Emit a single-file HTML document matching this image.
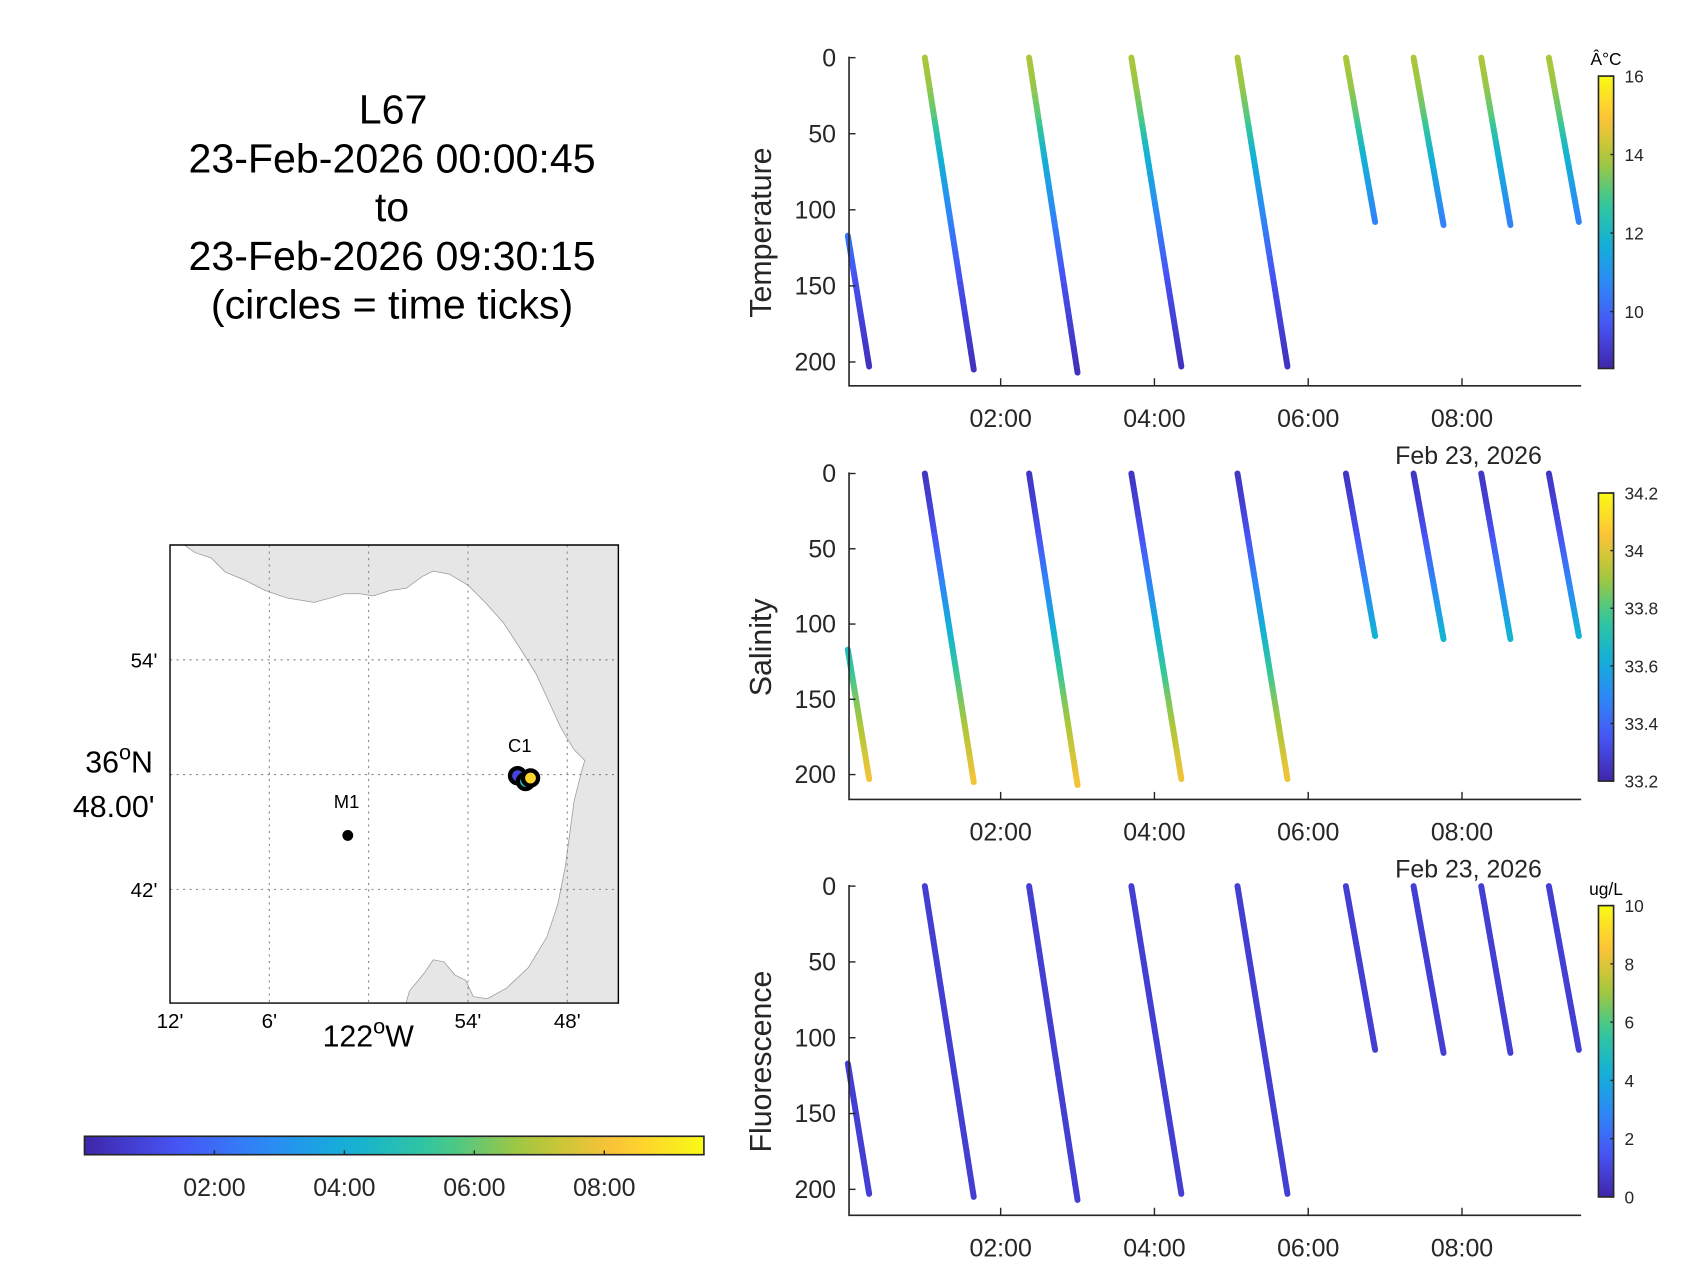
<!DOCTYPE html>
<html><head><meta charset="utf-8"><style>
html,body{margin:0;padding:0;background:#fff;}
svg{display:block;font-family:"Liberation Sans",sans-serif;}
</style></head><body>
<svg id="fig" width="1697" height="1273" viewBox="0 0 1567 1175" xmlns="http://www.w3.org/2000/svg">
<g font-size="38" text-anchor="middle" fill="#000">
<text x="363" y="114">L67</text>
<text x="362" y="159">23-Feb-2026 00:00:45</text>
<text x="362" y="204">to</text>
<text x="362" y="249">23-Feb-2026 09:30:15</text>
<text x="362" y="294">(circles = time ticks)</text>
</g>
<g id="map"></g>
<g id="timebar"></g>
<g id="panels"></g>
</svg>
<script>
// ---- data ----
const profStart=[0.0125,1.014,2.37,3.70,5.08,6.49,7.37,8.25,9.13];
const profEnd=[0.29,1.65,3.00,4.35,5.73,6.87,7.76,8.63,9.52];
const profTop=[117,0,0,0,0,0,0,0,0];
const profBottom=[203,205,207,203,203,108,110,110,108];
const depthTable=[0,20,40,60,100,150,207];
const tempTable=[13.9,13.7,13.1,12.0,10.8,9.5,8.8];
const salTable=[33.25,33.28,33.33,33.42,33.6,33.85,34.05];
const fluorTable=[0.8,0.8,0.8,0.8,0.8,0.8,0.8];
const timeTicks=[2,4,6,8];
const timeTickLabels=["02:00","04:00","06:00","08:00"];
const depthTicks=[0,50,100,150,200];
const tempCbTicks=[10,12,14,16];
const salCbTicks=[33.2,33.4,33.6,33.8,34,34.2];
const fluCbTicks=[0,2,4,6,8,10];
const lonTicks=[-122.2,-122.1,-122.0,-121.9,-121.8];
const lonTickLabels=["12'","6'","","54'","48'"];
const latTicks=[36.9,36.8,36.7];
const stationLon=[-122.021,-121.85,-121.842,-121.837];
const stationLat=[36.747,36.799,36.794,36.797];

const NS="http://www.w3.org/2000/svg";
const parula=[[62,38,168],[72,82,244],[46,135,247],[18,177,214],[55,200,151],[171,199,57],[254,195,56],[249,251,21]];
function cmap(f){f=Math.max(0,Math.min(1,f));const p=f*(parula.length-1);const i=Math.min(parula.length-2,Math.floor(p));const r=p-i;
const a=parula[i],b=parula[i+1];return `rgb(${a.map((v,k)=>Math.round(v+(b[k]-v)*r)).join(',')})`;}
function mk(tag,attrs,parent){const e=document.createElementNS(NS,tag);for(const k in attrs)e.setAttribute(k,attrs[k]);parent.appendChild(e);return e;}
function interp(xs,ys,x){if(x<=xs[0])return ys[0];for(let i=1;i<xs.length;i++){if(x<=xs[i]){const r=(x-xs[i-1])/(xs[i]-xs[i-1]);return ys[i-1]+r*(ys[i]-ys[i-1]);}}return ys[ys.length-1];}
const svg=document.getElementById('fig');
const defs=mk('defs',{},svg);
function grad(id,vertical){const g=mk('linearGradient',vertical?{id,x1:0,y1:1,x2:0,y2:0}:{id,x1:0,y1:0,x2:1,y2:0},defs);
for(let i=0;i<=20;i++)mk('stop',{offset:i/20,'stop-color':cmap(i/20)},g);}
grad('gv',true);grad('gh',false);

// ---- panels ----
const X0=782,XH=71,AXL=784,AXR=1460;
const panels=[
 {name:'temperature',label:'Temperature',y0:53,y200:334,bottom:356,tbl:tempTable,vmin:8.55,vmax:16,cb:[70,340],ticks:tempCbTicks,unit:'Â°C',fmt:v=>String(v)},
 {name:'salinity',label:'Salinity',y0:437,y200:715,bottom:738,tbl:salTable,vmin:33.2,vmax:34.2,cb:[455,721],ticks:salCbTicks,unit:'',fmt:v=>String(+v.toFixed(1))},
 {name:'fluorescence',label:'Fluorescence',y0:818,y200:1098,bottom:1122,tbl:fluorTable,vmin:0,vmax:10,cb:[836,1105],ticks:fluCbTicks,unit:'ug/L',fmt:v=>String(v)}
];
const pg=document.getElementById('panels');
panels.forEach(P=>{
 const g=mk('g',{},pg);
 
 
 const xs=t=>X0+XH*t, ys=d=>P.y0+(P.y200-P.y0)*d/200;
 const pl=mk('g',{},g);
 
 
 profStart.forEach((ts,i)=>{
  const N=40;
  for(let k=0;k<N;k++){
   const f0=k/N,f1=(k+1)/N;
   const d0=profTop[i]+(profBottom[i]-profTop[i])*f0,d1=profTop[i]+(profBottom[i]-profTop[i])*f1;
   const t0=ts+(profEnd[i]-ts)*f0,t1=ts+(profEnd[i]-ts)*f1;
   const v=interp(depthTable,P.tbl,(d0+d1)/2);
   const l=mk('line',{x1:xs(t0),y1:ys(d0),x2:xs(t1),y2:ys(d1),stroke:cmap((v-P.vmin)/(P.vmax-P.vmin)),'stroke-width':5.5,'stroke-linecap':'round'},pl);
   
   
  }
 });
 const ax=mk('path',{d:`M${AXL},${P.y0-1}V${P.bottom}H${AXR}`,fill:'none',stroke:'#262626','stroke-width':1.5},g);
 
 
 depthTicks.forEach(d=>{
  mk('line',{x1:AXL,x2:AXL+6,y1:ys(d),y2:ys(d),stroke:'#262626','stroke-width':1.3},g);
  const t=mk('text',{x:AXL-12,y:ys(d)+8,'font-size':23,'text-anchor':'end',fill:'#262626'},g);t.textContent=d;
  
  
 });
 timeTicks.forEach((h,i)=>{
  mk('line',{x1:xs(h),x2:xs(h),y1:P.bottom,y2:P.bottom-7,stroke:'#262626','stroke-width':1.3},g);
  const t=mk('text',{x:xs(h),y:P.bottom+38,'font-size':23,'text-anchor':'middle',fill:'#262626'},g);t.textContent=timeTickLabels[i];
  
  
 });
 const dl=mk('text',{x:1356,y:P.bottom+72,'font-size':23,'text-anchor':'middle',fill:'#262626'},g);dl.textContent='Feb 23, 2026';
 
 
 const yl=mk('text',{x:0,y:0,'font-size':28,'text-anchor':'middle',fill:'#262626',transform:`translate(712,${(P.y0+P.bottom)/2+10}) rotate(-90)`},g);yl.textContent=P.label;
 
 
 const cb=mk('rect',{x:1476,y:P.cb[0],width:14,height:P.cb[1]-P.cb[0],fill:'url(#gv)',stroke:'#262626','stroke-width':1.5},g);
 
 
 const cy=v=>P.cb[1]-(v-P.vmin)/(P.vmax-P.vmin)*(P.cb[1]-P.cb[0]);
 P.ticks.forEach(v=>{const y=cy(v);if(y<P.cb[0]-1)return;
  mk('line',{x1:1487,x2:1490,y1:y,y2:y,stroke:'#262626','stroke-width':1.3},g);
  const t=mk('text',{x:1500,y:y+6,'font-size':16,fill:'#262626'},g);t.textContent=P.fmt(v);
  
  });
 if(P.unit){const u=mk('text',{x:1483,y:P.cb[0]-10,'font-size':16,'text-anchor':'middle',fill:'#000'},g);u.textContent=P.unit;
  
  }
});

// ---- map ----
const map=document.getElementById('map');
const ML=157,MR=571,MT=503,MB=926;
const lx=lon=>157+(lon+122.2)*917, ly=lat=>609+(36.9-lat)*1060;
mk('rect',{x:ML,y:MT,width:MR-ML,height:MB-MT,fill:'#fff'},map);
const land=mk('path',{d:'M170,503 L180,510 L195,515 L208,528 L225,535 L245,545 L265,552 L290,556 L305,552 L318,548 L332,548 L345,550 L360,545 L375,543 L390,532 L400,527 L415,530 L432,540 L448,556 L465,575 L480,598 L495,622 L507,648 L518,672 L530,692 L540,702 L537,712 L530,740 L526,770 L522,800 L515,835 L505,865 L488,893 L468,912 L450,922 L437,920 L430,905 L420,900 L410,888 L400,886 L392,898 L378,915 L375,926 L571,926 L571,503 Z',fill:'#e6e6e6',stroke:'#999','stroke-width':0.7},map);


const grid=mk('g',{stroke:'#888','stroke-width':1,'stroke-dasharray':'2,4'},map);
lonTicks.forEach(l=>{if(lx(l)>ML+2&&lx(l)<MR-2)mk('line',{x1:lx(l),x2:lx(l),y1:MT,y2:MB},grid);});
latTicks.forEach(l=>mk('line',{x1:ML,x2:MR,y1:ly(l),y2:ly(l)},grid));
mk('path',{d:`M${ML},${MT}V${MB}H${MR}V${MT}Z`,fill:'none',stroke:'#000','stroke-width':1.3},map);
function txt(x,y,s,size,anchor,name){const t=mk('text',{x,y,'font-size':size,'text-anchor':anchor||'middle',fill:'#000'},map);t.textContent=s;
 
 return t;}
lonTicks.forEach((l,i)=>{if(lonTickLabels[i])txt(lx(l),949,lonTickLabels[i],19,'middle','lon-tick-label');});
txt(133,616,"54'",19,'middle','lat-tick-label');txt(133,828,"42'",19,'middle','lat-tick-label');
const n=mk('text',{x:110,y:713,'font-size':28,'text-anchor':'middle',fill:'#000'},map);n.innerHTML='36<tspan dy="-12" font-size="20">o</tspan><tspan dy="12">N</tspan>';


txt(105,754,"48.00'",28,'middle','lat-minutes-label');
const w=mk('text',{x:340,y:966,'font-size':28,'text-anchor':'middle',fill:'#000'},map);w.innerHTML='122<tspan dy="-12" font-size="20">o</tspan><tspan dy="12">W</tspan>';


const m1=mk('circle',{cx:lx(stationLon[0]),cy:ly(stationLat[0]),r:5,fill:'#000'},map);


txt(320,746,'M1',17,'middle','station-m1-label');
txt(480,694,'C1',17,'middle','station-c1-label');
const cols=[0.1,0.5,0.9];
for(let i=1;i<stationLon.length;i++){const c=mk('circle',{cx:lx(stationLon[i]),cy:ly(stationLat[i]),r:7,fill:cmap(cols[i-1]),stroke:'#000','stroke-width':4},map);
 
 }

// ---- time colorbar ----
const tb=document.getElementById('timebar');
const TX0=78,TXH=60,TX1=650;
mk('rect',{x:TX0,y:1049,width:TX1-TX0,height:17,fill:'url(#gh)',stroke:'#262626','stroke-width':1.5},tb);
timeTicks.forEach((h,i)=>{const x=TX0+TXH*h;
 mk('line',{x1:x,x2:x,y1:1066,y2:1062,stroke:'#262626','stroke-width':1.3},tb);
 const t=mk('text',{x,y:1104,'font-size':23,'text-anchor':'middle',fill:'#262626'},tb);t.textContent=timeTickLabels[i];
 
 });
</script>
</body></html>
